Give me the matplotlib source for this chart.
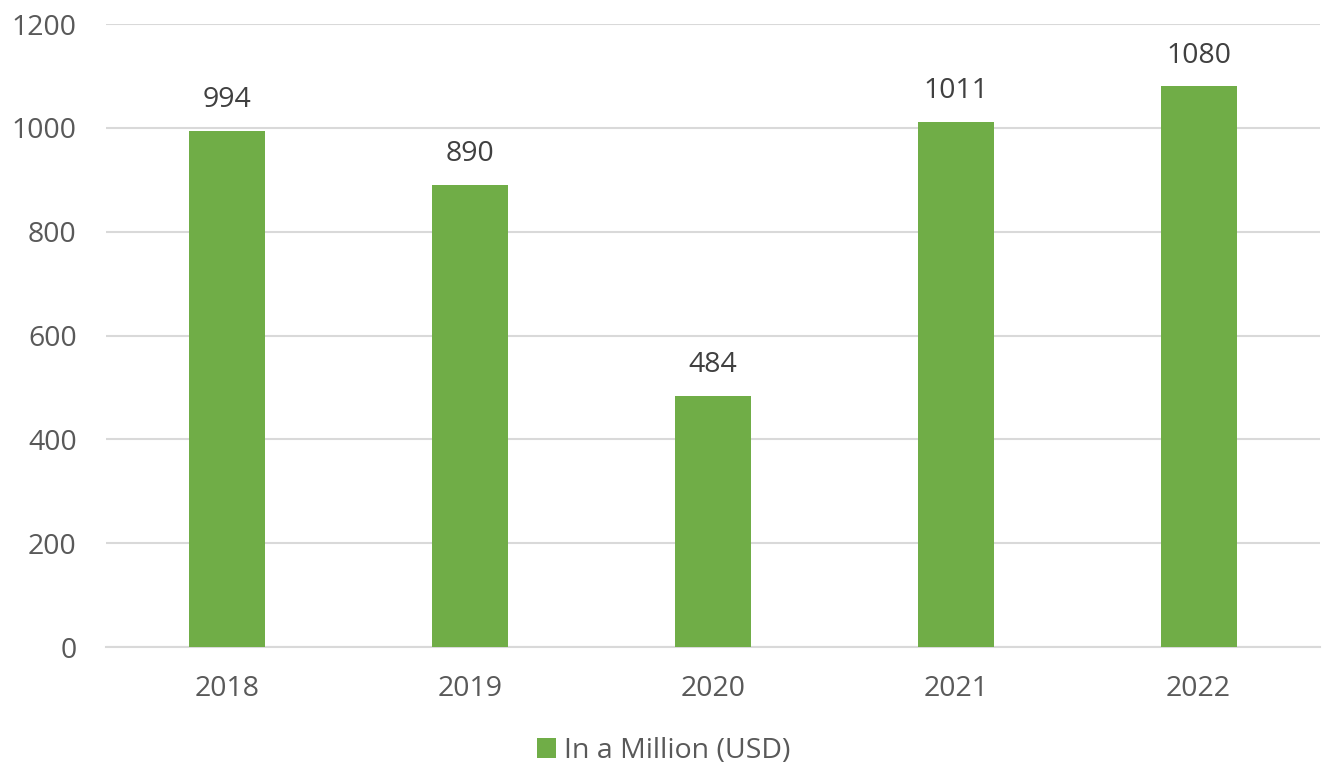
import matplotlib
matplotlib.use("Agg")
import matplotlib.pyplot as plt
from matplotlib.patches import Patch
import numpy as np

years = ["2018", "2019", "2020", "2021", "2022"]
values = [994, 890, 484, 1011, 1080]
series_name = "In a Million (USD)"

GREEN = "#70AD47"
TICK_COLOR = "#595959"
LABEL_COLOR = "#404040"
GRID_COLOR = "#D9D9D9"
FS = 20.5

plt.rcParams["font.family"] = ["Open Sans", "DejaVu Sans"]

fig = plt.figure(figsize=(13.28, 7.67), dpi=100)
ax = fig.add_axes([106 / 1328, 1 - 647 / 767, 1214 / 1328, (647 - 24) / 767])

x = np.arange(len(years))
bars = ax.bar(x, values, width=0.313, color=GREEN, zorder=3)

for rect, v in zip(bars, values):
    ax.annotate(str(v), (rect.get_x() + rect.get_width() / 2, v),
                xytext=(0, 12), textcoords="offset points",
                ha="center", va="bottom", fontsize=FS, color=LABEL_COLOR)

ax.set_xlim(-0.5, len(years) - 0.5)
ax.set_ylim(0, 1200)
ax.set_yticks(range(0, 1201, 200))
ax.set_xticks(x)
ax.set_xticklabels(years)

ax.yaxis.grid(True, color=GRID_COLOR, linewidth=1.5, zorder=0)
ax.set_axisbelow(True)
for side in ["top", "right", "left"]:
    ax.spines[side].set_visible(False)
ax.spines["bottom"].set_color(GRID_COLOR)
ax.spines["bottom"].set_linewidth(1.5)

ax.tick_params(axis="both", length=0, labelsize=FS, labelcolor=TICK_COLOR)
ax.tick_params(axis="y", pad=21)
ax.tick_params(axis="x", pad=20)

fig.legend(handles=[Patch(facecolor=GREEN, label=series_name)],
           loc="center", bbox_to_anchor=(0.5, 1 - 751 / 767), frameon=False,
           fontsize=FS, labelcolor=TICK_COLOR, handlelength=0.65,
           handleheight=0.65, handletextpad=0.3)

fig.savefig("out.png", dpi=100)
